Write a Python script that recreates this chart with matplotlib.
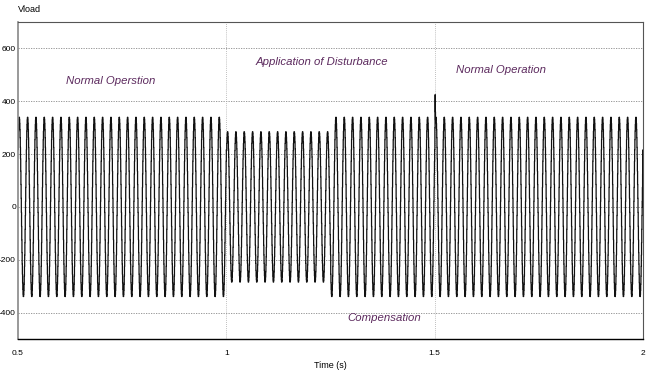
import numpy as np
import matplotlib.pyplot as plt

plt.rcParams['font.family'] = ['Liberation Sans', 'DejaVu Sans']
plt.rcParams['axes.unicode_minus'] = False

# waveform description
freq = 50.0                       # Hz
phase = 0.69                      # rad at t = 0
seg_start = [0.5, 1.0, 1.25, 1.5]
seg_end = [1.0, 1.25, 1.5, 2.0]
seg_amp = [340, 285, 340, 340]    # peak volts in each interval
spike_t = [1.5005, 1.5010, 1.5015]
spike_v = [300, 425, 360]
dt = 0.0005

yticks = [-400, -200, 0, 200, 400, 600]
xticks = [0.5, 1, 1.5, 2]
xtick_labels = ['0.5', '1', '1.5', '2']

labels = ['Normal Operstion', 'Application of Disturbance', 'Normal Operation', 'Compensation']
label_t = [0.722, 1.23, 1.66, 1.38]
label_v = [475, 550, 520, -420]

purple = '#5c2a5e'

t = np.arange(0.5, 2.0 + dt, dt)
amp = np.zeros_like(t)
for a, b, A in zip(seg_start, seg_end, seg_amp):
    amp[(t >= a) & (t <= b)] = A
v = amp * np.sin(2 * np.pi * freq * t + phase)
for ts, vs in zip(spike_t, spike_v):
    v[np.argmin(np.abs(t - ts))] = vs

fig = plt.figure(figsize=(6.54, 3.77), dpi=100)
ax = fig.add_axes([18 / 654, 38 / 377, 625 / 654, 317 / 377])

ax.step(t, v, where='post', color='#111111', lw=0.9)

ax.set_xlim(0.5, 2.0)
ax.set_ylim(-500, 700)
ax.set_xticks(xticks)
ax.set_xticklabels(xtick_labels)
ax.set_yticks(yticks)
ax.tick_params(length=0, labelsize=6)
ax.tick_params(axis='y', pad=1.5)
ax.tick_params(axis='x', pad=8)

for y in yticks:
    ax.axhline(y, color='#888888', lw=0.6, ls=(0, (1.5, 1.5)), zorder=0)
for x in [1.0, 1.5]:
    ax.axvline(x, color='#aaaaaa', lw=0.6, ls=(0, (1, 1.5)), zorder=0)

ax.spines['left'].set_color('#888888')
ax.spines['left'].set_linewidth(1.2)
ax.spines['bottom'].set_color('black')
ax.spines['bottom'].set_linewidth(1.0)
ax.spines['top'].set_color('#555555')
ax.spines['right'].set_color('#555555')
ax.spines['top'].set_linewidth(0.8)
ax.spines['right'].set_linewidth(0.8)

for s, x, y in zip(labels, label_t, label_v):
    ax.text(x, y, s, color=purple, style='italic', fontsize=8.2, ha='center', va='center')

fig.text(18 / 654, 1 - 10 / 377, 'Vload', fontsize=6.5, ha='left', va='center')
ax.set_xlabel('Time (s)', fontsize=6.5, labelpad=3)

fig.savefig('out.png', dpi=100)
